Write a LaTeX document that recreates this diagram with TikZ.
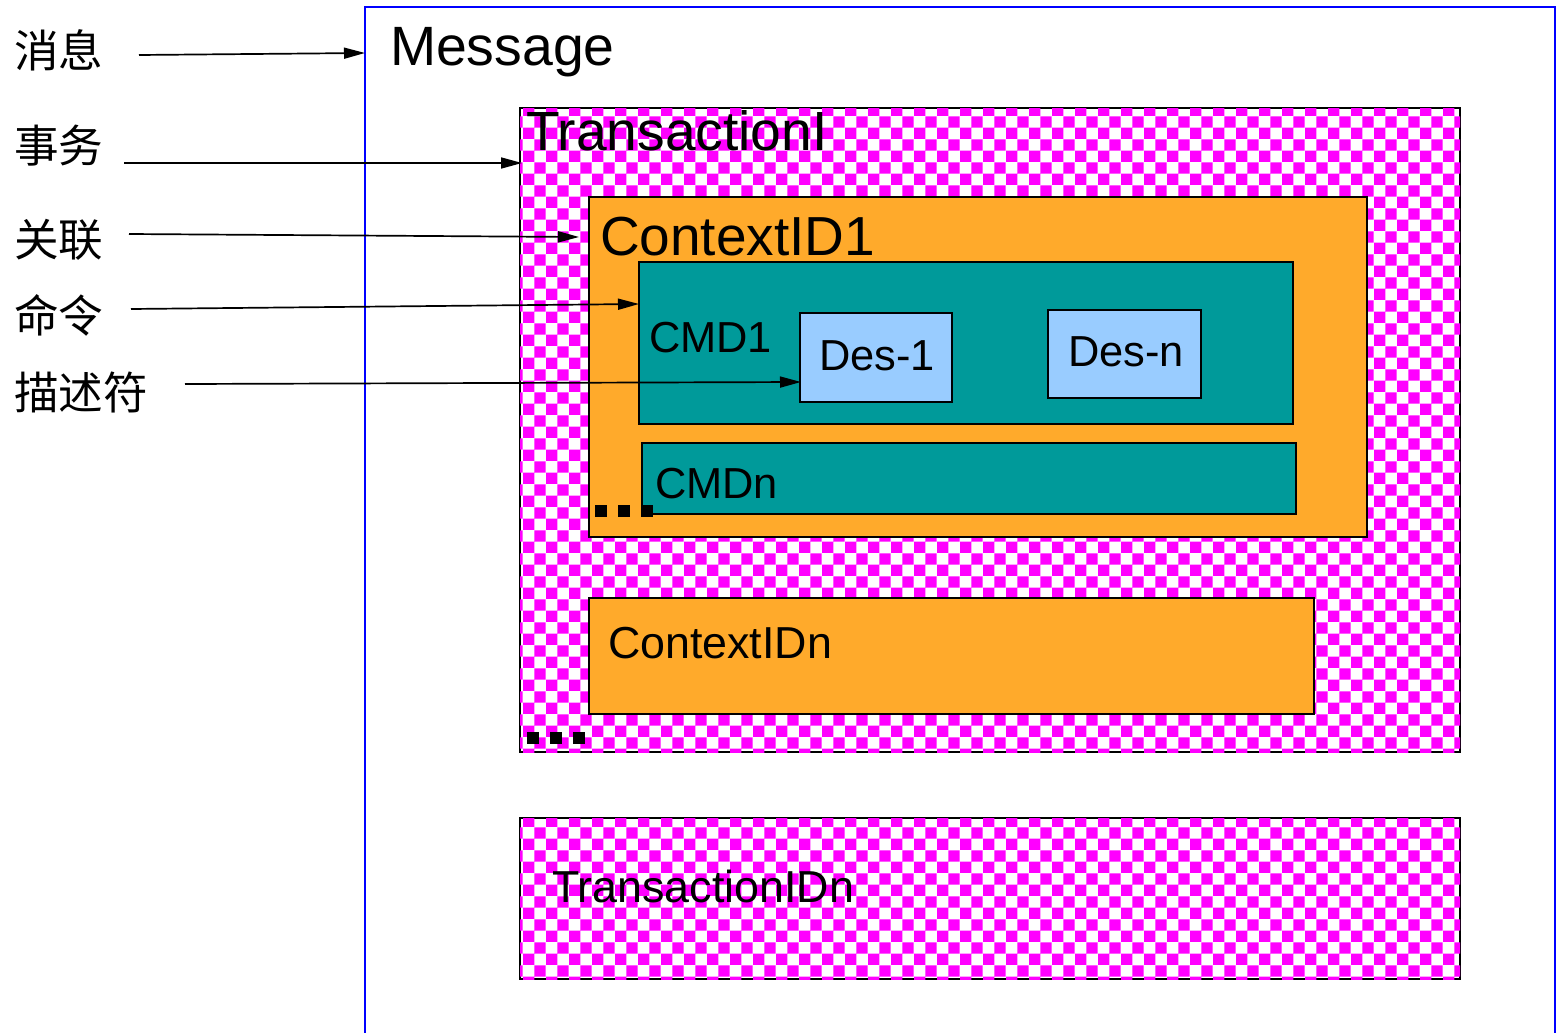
\documentclass[tikz,border=0pt]{standalone}
\usepackage{fontspec}
\setmainfont{Liberation Sans}
\newfontfamily\cjk{Noto Sans CJK SC}
\usetikzlibrary{patterns,arrows.meta}
\definecolor{cOrange}{RGB}{255,170,43}
\definecolor{cTeal}{RGB}{0,154,154}
\definecolor{cLBlue}{RGB}{153,204,255}
\definecolor{cMag}{RGB}{255,0,255}
\tikzset{
  bx/.style={draw=black,line width=1pt,anchor=north west,inner sep=0pt,outer sep=0pt},
  chk/.style={bx,fill=white,postaction={pattern=checkerboard,pattern color=cMag}},
  orng/.style={bx,fill=cOrange},
  teal/.style={bx,fill=cTeal},
  lblue/.style={bx,fill=cLBlue},
  txt/.style={anchor=base west,inner sep=0pt,outer sep=0pt},
  lbl/.style={anchor=west,inner sep=0pt,outer sep=0pt,font=\cjk\fontsize{22.3}{24}\selectfont},
  arr/.style={-{Triangle[length=10.5pt,width=5.5pt]},line width=0.85pt,black},
  sq/.style={fill=black,inner sep=0pt,outer sep=0pt,minimum size=6pt,anchor=north west}
}
\begin{document}
\begin{tikzpicture}[x=0.5pt,y=-0.5pt]
\useasboundingbox (0,0) rectangle (1560,1033);
% message frame (open at bottom)
\draw[blue,line width=1pt] (365,1040) -- (365,7) -- (1555,7) -- (1555,1040);
\node[txt,font=\fontsize{27.7}{30}\selectfont] (msgT) at (390,65) {Message};

% transaction I
\node[chk,minimum width=470pt,minimum height=322pt] (tr1) at (520,108) {};
\node[txt,font=\fontsize{27.6}{30}\selectfont] (tr1T) at (526,150) {TransactionI};

% context ID1
\node[orng,minimum width=389pt,minimum height=170pt] (ctx1) at (589,197) {};
\node[txt,font=\fontsize{27.5}{30}\selectfont] (ctx1T) at (600,255) {ContextID1};

% CMD1
\node[teal,minimum width=327pt,minimum height=81pt] (cmd1) at (639,262) {};
\node[txt,font=\fontsize{21.7}{24}\selectfont] (cmd1T) at (649,352) {CMD1};

\node[lblue,minimum width=76pt,minimum height=44.5pt] (des1) at (800,313) {};
\node[txt,font=\fontsize{21.7}{24}\selectfont] (des1T) at (819,370) {Des-1};
\node[lblue,minimum width=76.5pt,minimum height=44pt] (desn) at (1048,310) {};
\node[txt,font=\fontsize{21.7}{24}\selectfont] (desnT) at (1068,366) {Des-n};

% CMDn
\node[teal,minimum width=327pt,minimum height=35.5pt] (cmdn) at (642,443) {};
\node[txt,font=\fontsize{21.7}{24}\selectfont] (cmdnT) at (655,498) {CMDn};

% dots in context
\node[sq] (cd1) at (595,505) {};
\node[sq] (cd2) at (618,505) {};
\node[sq] (cd3) at (641,505) {};

% context IDn
\node[orng,minimum width=362.5pt,minimum height=58pt] (ctxn) at (589,598) {};
\node[txt,font=\fontsize{22.4}{24}\selectfont] (ctxnT) at (608,658) {ContextIDn};

% dots in transaction
\node[sq] (td1) at (527,732) {};
\node[sq] (td2) at (550,732) {};
\node[sq] (td3) at (573,732) {};

% transaction IDn
\node[chk,minimum width=470pt,minimum height=80.5pt] (trn) at (520,818) {};
\node[txt,font=\fontsize{22.4}{24}\selectfont] (trnT) at (552,902) {TransactionIDn};

% labels
\node[lbl] (l1) at (14,50) {消息};
\node[lbl] (l2) at (14,146) {事务};
\node[lbl] (l3) at (14,240) {关联};
\node[lbl] (l4) at (14,315) {命令};
\node[lbl] (l5) at (14,392) {描述符};

\coordinate (s1) at (139,55);   \coordinate (e1) at (365,53);
\coordinate (s2) at (124,163);  \coordinate (e2) at (522,163);
\coordinate (s3) at (129,234);  \coordinate (e3) at (579,237);
\coordinate (s4) at (131,309);  \coordinate (e4) at (639,304);
\coordinate (s5) at (185,384);  \coordinate (e5) at (801,382);
\draw[arr] (s1) -- (e1);
\draw[arr] (s2) -- (e2);
\draw[arr] (s3) -- (e3);
\draw[arr] (s4) -- (e4);
\draw[arr] (s5) -- (e5);
\end{tikzpicture}
\end{document}
